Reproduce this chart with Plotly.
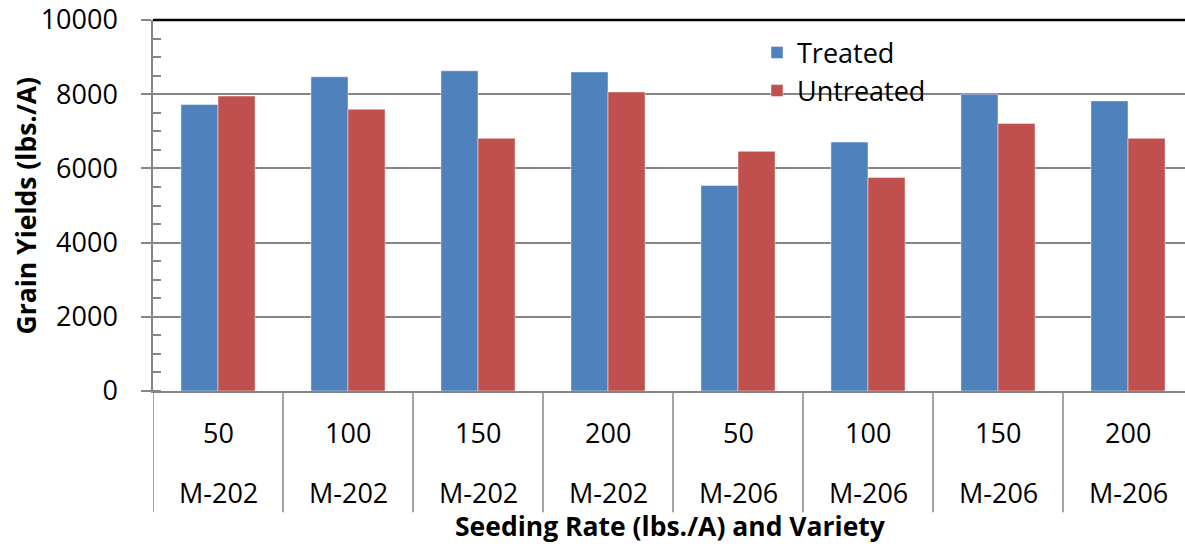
import plotly.graph_objects as go

rates = ["50", "100", "150", "200", "50", "100", "150", "200"]
varieties = ["M-202", "M-202", "M-202", "M-202", "M-206", "M-206", "M-206", "M-206"]
treated = [7720, 8470, 8630, 8600, 5540, 6710, 8000, 7820]
untreated = [7950, 7595, 6810, 8060, 6460, 5756, 7210, 6810]
y_ticks = [0, 2000, 4000, 6000, 8000, 10000]
y_tick_labels = ["0", "2000", "4000", "6000", "8000", "10000"]

FONT = "Open Sans"
W, H = 1185, 544
L, R, T, B = 153, 0, 17.5, 153
plot_h = H - T - B

def py(px_below):
    return -px_below / plot_h

x = list(range(len(rates)))

fig = go.Figure()
fig.add_trace(go.Bar(x=x, y=treated, name="Treated",
                     marker=dict(color="#4F81BD", line=dict(color="rgba(255,255,255,0.45)", width=1))))
fig.add_trace(go.Bar(x=x, y=untreated, name="Untreated",
                     marker=dict(color="#C0504D", line=dict(color="rgba(255,255,255,0.45)", width=1))))

shapes = []
# top black line at 10000
shapes.append(dict(type="line", xref="paper", yref="paper", x0=0, x1=1, y0=1, y1=1,
                   line=dict(color="#000000", width=2.5), layer="above"))
# left axis extension and category dividers below the axis
for i in range(len(rates)):
    shapes.append(dict(type="line", xref="x", yref="paper", x0=i - 0.5, x1=i - 0.5,
                       y0=0, y1=py(122), line=dict(color="#868686", width=1.5)))

annotations = []
for i, (r, v) in enumerate(zip(rates, varieties)):
    annotations.append(dict(x=i, y=py(41.5), xref="x", yref="paper", text=r, showarrow=False,
                            font=dict(family=FONT, size=27, color="black"), yanchor="middle"))
    annotations.append(dict(x=i, y=py(102), xref="x", yref="paper", text=v, showarrow=False,
                            font=dict(family=FONT, size=27, color="black"), yanchor="middle"))
annotations.append(dict(x=(670 - L) / (W - L), y=py(136), xref="paper", yref="paper",
                        text="<b>Seeding Rate (lbs./A) and Variety</b>", showarrow=False,
                        font=dict(family=FONT, size=26.5, color="black"), yanchor="middle",
                        xanchor="center"))
annotations.append(dict(x=-(L - 25) / (W - L - R), y=0.5, xref="paper", yref="paper",
                        text="<b>Grain Yields (lbs./A)</b>", showarrow=False, textangle=-90,
                        font=dict(family=FONT, size=26.5, color="black"), yanchor="middle",
                        xanchor="center"))

fig.update_layout(
    width=W, height=H,
    margin=dict(l=L, r=R, t=T, b=B, pad=0),
    paper_bgcolor="white", plot_bgcolor="white",
    barmode="group", bargap=0.43, bargroupgap=0,
    font=dict(family=FONT, size=27, color="black"),
    showlegend=True,
    legend=dict(x=(757 - L) / (W - L), y=1 - (26 - T) / plot_h, xanchor="left", yanchor="top",
                bgcolor="rgba(0,0,0,0)", font=dict(family=FONT, size=27, color="black"),
                tracegroupgap=0, itemwidth=30),
    xaxis=dict(range=[-0.5, -0.5 + (W - L - R) / 130], showticklabels=False, ticks="",
               showgrid=False, zeroline=False, showline=True, linecolor="#868686", linewidth=1.5,
               fixedrange=True),
    yaxis=dict(range=[0, 10000], tickvals=y_ticks, ticktext=y_tick_labels,
               ticks="outside", ticklen=10, tickwidth=1.5,
               tickcolor="#868686", showgrid=True, gridcolor="#868686", gridwidth=1.5,
               zeroline=False, showline=True, linecolor="#868686", linewidth=1.5,
               ticklabelstandoff=18, ticklabeloverflow="allow",
               minor=dict(dtick=500, ticks="inside", ticklen=8, tickwidth=1.5, tickcolor="#868686",
                          showgrid=False),
               tickfont=dict(family=FONT, size=27, color="black")),
    shapes=shapes,
    annotations=annotations,
)

fig.write_html("out.html")
